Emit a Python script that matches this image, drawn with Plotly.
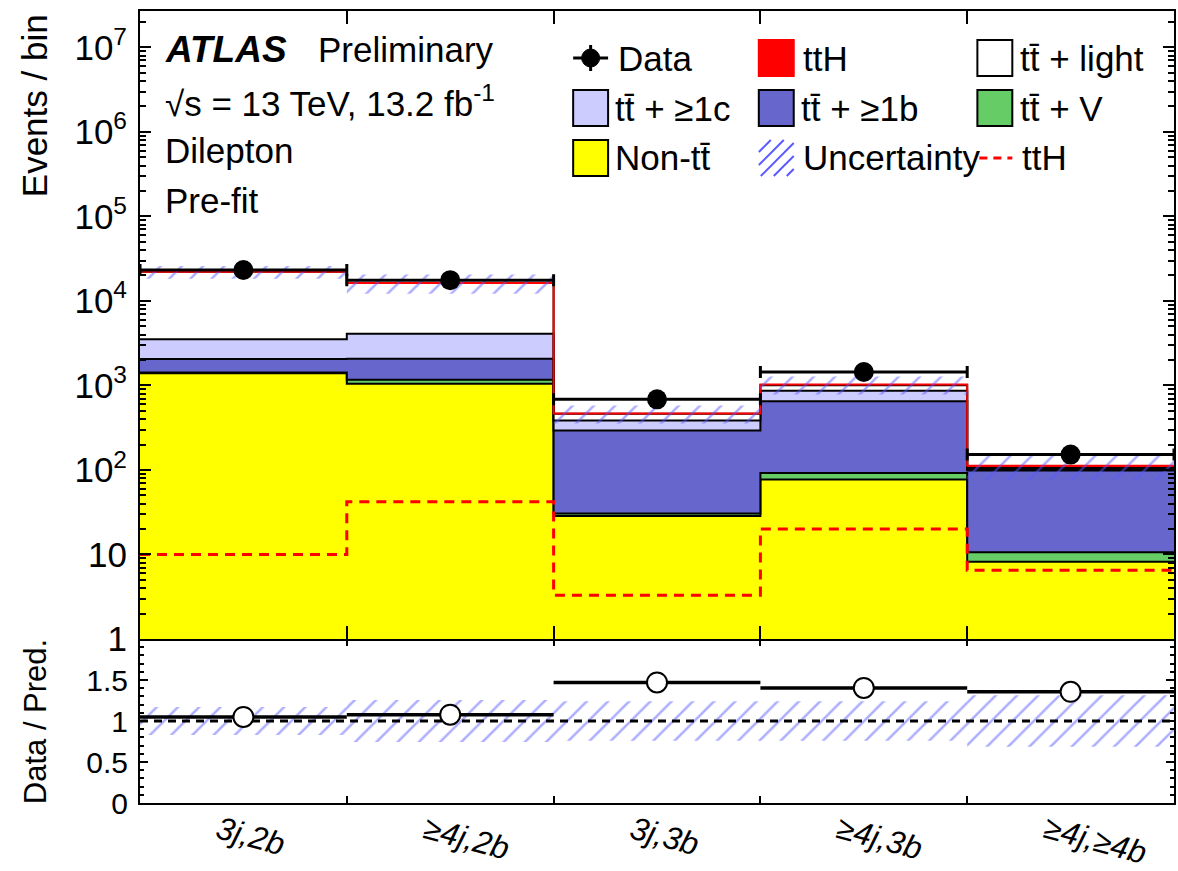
import numpy as np
import plotly.graph_objects as go

# ---- bins and yields ----
categories = ["3j,2b", "≥4j,2b", "3j,3b", "≥4j,3b", "≥4j,≥4b"]
data = [23200, 17600, 685, 1440, 152]
non_tt = [1390, 1045, 28.6, 77, 8.2]
tt_v = [28, 125, 2.0, 15, 2.4]
tt_1b = [640, 905, 263, 560, 88]
tt_1c = [1450, 2025, 91, 212, 3]
tt_light = [18590, 12200, 78, 142, 4]
tth = [10, 42, 3.3, 20, 6.5]
rel_unc = [0.17, 0.255, 0.24, 0.24, 0.315]

FONT = "Liberation Sans, Arial, Helvetica, sans-serif"
TTBAR = "tt\u0304"
HATCH = "#5a5aff"
TXT = 35

edges = np.arange(len(categories) + 1, dtype=float)
centers = edges[:-1] + 0.5


def step(v):
    v = list(v)
    return v + [v[-1]]


# pixel helpers for paper-positioned decorations (plot area 140..1176 x 11..803)
def px(x):
    return (x - 140) / 1036.0


def py(y):
    return (803 - y) / 792.0


stack = [
    ("Non-" + TTBAR, non_tt, "#ffff00", "black"),
    (TTBAR + " + V", tt_v, "#66cc66", "black"),
    (TTBAR + " + ≥1b", tt_1b, "#6666cc", "black"),
    (TTBAR + " + ≥1c", tt_1c, "#ccccff", "black"),
    (TTBAR + " + light", tt_light, "#ffffff", "black"),
    ("ttH", tth, "#ff0000", "#ff0000"),
]

hatch = dict(shape="/", fgcolor=HATCH, bgcolor="rgba(0,0,0,0)",
             size=15, solidity=0.17, fillmode="overlay")

fig = go.Figure()

# baseline below the visible range so the first fill reaches the axis
fig.add_trace(go.Scatter(x=edges, y=[1e-3] * len(edges), mode="lines",
                         line=dict(width=0, shape="hv"), xaxis="x2", yaxis="y",
                         hoverinfo="skip", showlegend=False))

cum = np.zeros(len(categories))
for name, vals, fc, lc in stack:
    cum = cum + np.array(vals, dtype=float)
    fig.add_trace(go.Scatter(x=edges, y=step(cum), mode="lines", name=name,
                             line=dict(color=lc, width=2, shape="hv"),
                             fill="tonexty", fillcolor=fc,
                             xaxis="x2", yaxis="y", showlegend=False))
total = cum.copy()
unc = np.array(rel_unc)

# uncertainty band on the prediction
fig.add_trace(go.Scatter(x=edges, y=step(total * (1 - unc)), mode="lines",
                         line=dict(width=0, shape="hv"), xaxis="x2", yaxis="y",
                         hoverinfo="skip", showlegend=False))
fig.add_trace(go.Scatter(x=edges, y=step(total * (1 + unc)), mode="lines",
                         line=dict(width=0, shape="hv"), fill="tonexty",
                         fillcolor="rgba(0,0,0,0)", fillpattern=hatch,
                         xaxis="x2", yaxis="y", showlegend=False))

# ttH overlay
fig.add_trace(go.Scatter(x=edges, y=step(tth), mode="lines",
                         line=dict(color="#ff0000", width=3, dash="10px,7px", shape="hv"),
                         xaxis="x2", yaxis="y", showlegend=False))

# data
data_arr = np.array(data, dtype=float)
fig.add_trace(go.Scatter(x=centers, y=data_arr, mode="markers",
                         marker=dict(color="black", size=20),
                         error_x=dict(type="constant", value=0.5, width=6, thickness=3, color="black"),
                         error_y=dict(type="data", array=np.sqrt(data_arr), width=0,
                                      thickness=3, color="black"),
                         xaxis="x2", yaxis="y", showlegend=False))

# ---- ratio panel ----
fig.add_trace(go.Scatter(x=edges, y=step(1 - unc), mode="lines",
                         line=dict(width=0, shape="hv"), xaxis="x", yaxis="y2",
                         hoverinfo="skip", showlegend=False))
fig.add_trace(go.Scatter(x=edges, y=step(1 + unc), mode="lines",
                         line=dict(width=0, shape="hv"), fill="tonexty",
                         fillcolor="rgba(0,0,0,0)", fillpattern=hatch,
                         xaxis="x", yaxis="y2", showlegend=False))
fig.add_trace(go.Scatter(x=[edges[0], edges[-1]], y=[1, 1], mode="lines",
                         line=dict(color="black", width=3, dash="8px,6px"),
                         xaxis="x", yaxis="y2", showlegend=False))
ratio = data_arr / total
fig.add_trace(go.Scatter(x=centers, y=ratio, mode="markers",
                         marker=dict(color="white", size=20, line=dict(color="black", width=2)),
                         error_x=dict(type="constant", value=0.5, width=0, thickness=3.5, color="black"),
                         error_y=dict(type="data", array=np.sqrt(data_arr) / total, width=0,
                                      thickness=3, color="black"),
                         xaxis="x", yaxis="y2", showlegend=False))

# ---- axes ----
split = 164 / 792.0
log_major = [10 ** e for e in range(8)]
log_text = ["1", "10"] + ["10<sup>%d</sup>" % e for e in range(2, 8)]
log_minor = [m * 10 ** e for e in range(8) for m in range(2, 10) if m * 10 ** e < 10 ** 7.43]

common_axis = dict(showline=True, linecolor="black", linewidth=2, mirror="ticks",
                   showgrid=False, zeroline=False, tickcolor="black")

fig.update_layout(
    width=1178, height=871,
    margin=dict(l=140, r=2, t=11, b=68),
    paper_bgcolor="white", plot_bgcolor="white",
    font=dict(family=FONT, color="black"),
    showlegend=False,
    xaxis=dict(domain=[0, 1], range=[0, 5], anchor="y2",
               tickvals=list(edges[1:-1]), ticks="inside", ticklen=7, tickwidth=2,
               showticklabels=False, **common_axis),
    xaxis2=dict(domain=[0, 1], range=[0, 5], anchor="y", matches="x",
                tickvals=list(edges[1:-1]), ticks="inside", ticklen=13, tickwidth=2,
                showticklabels=False, **common_axis),
    yaxis=dict(domain=[split, 1], type="log", range=[0, 7.43], anchor="x2",
               tickvals=log_major, ticktext=log_text, ticks="inside", ticklen=11, tickwidth=2,
               tickfont=dict(size=35), ticklabelstandoff=4,
               minor=dict(tickvals=log_minor, ticks="inside", ticklen=6, tickwidth=1.5,
                          tickcolor="black"),
               **common_axis),
    yaxis2=dict(domain=[0, split], range=[0, 2], anchor="x",
                tickvals=[0, 0.5, 1, 1.5], ticktext=["0", "0.5", "1", "1.5"],
                ticks="inside", ticklen=8, tickwidth=2, tickfont=dict(size=30),
                ticklabelstandoff=4,
                minor=dict(dtick=0.1, ticks="inside", ticklen=4, tickwidth=1.5,
                           tickcolor="black"),
                **common_axis),
)

annotations = []
shapes = []

# category labels under the ratio panel
for c, lab in zip(centers, categories):
    annotations.append(dict(x=c, xref="x", y=py(807), yref="paper", xshift=-33,
                            text="<i>%s</i>" % lab, showarrow=False, textangle=15,
                            xanchor="left", yanchor="top", font=dict(size=32)))

# axis titles
annotations.append(dict(x=px(35), y=py(106), xref="paper", yref="paper", text="Events / bin",
                        textangle=-90, showarrow=False, xanchor="center", yanchor="middle",
                        font=dict(size=35)))
annotations.append(dict(x=px(35), y=py(722), xref="paper", yref="paper", text="Data / Pred.",
                        textangle=-90, showarrow=False, xanchor="center", yanchor="middle",
                        font=dict(size=31)))


# labels in the top-left corner
def label(x, y, text, size=TXT):
    annotations.append(dict(x=px(x), y=py(y), xref="paper", yref="paper", text=text,
                            showarrow=False, xanchor="left", yanchor="middle",
                            font=dict(size=size)))


label(163, 50, "<b><i>ATLAS</i></b>", size=37)
label(316, 50, "Preliminary")
label(163, 101, "√s = 13 TeV, 13.2 fb<sup>-1</sup>")
label(163, 150, "Dilepton")
label(163, 200, "Pre-fit")

# legend
rows = [58, 108, 158]
cols = [574, 760, 979]
bw, bh = 35, 36


def box(col, row, fc, lc):
    x0, y0 = cols[col], rows[row] - bh / 2
    shapes.append(dict(type="rect", xref="paper", yref="paper",
                       x0=px(x0), x1=px(x0 + bw), y0=py(y0 + bh), y1=py(y0),
                       fillcolor=fc, line=dict(color=lc, width=2)))


# data entry: marker with error bar
cx, cy = cols[0] + bw / 2, rows[0]
shapes.append(dict(type="line", xref="paper", yref="paper", x0=px(cols[0]), x1=px(cols[0] + bw),
                   y0=py(cy), y1=py(cy), line=dict(color="black", width=3)))
shapes.append(dict(type="line", xref="paper", yref="paper", x0=px(cx), x1=px(cx),
                   y0=py(cy - 13), y1=py(cy + 13), line=dict(color="black", width=3)))
shapes.append(dict(type="circle", xref="paper", yref="paper", x0=px(cx - 9), x1=px(cx + 9),
                   y0=py(cy + 9), y1=py(cy - 9), fillcolor="black", line=dict(color="black", width=1)))
label(cols[0] + 43, rows[0], "Data")

box(1, 0, "#ff0000", "#ff0000")
label(cols[1] + 42, rows[0], "ttH")
box(2, 0, "#ffffff", "black")
label(cols[2] + 41, rows[0], TTBAR + " + light")

box(0, 1, "#ccccff", "black")
label(cols[0] + 40, rows[1], TTBAR + " + ≥1c")
box(1, 1, "#6666cc", "black")
label(cols[1] + 40, rows[1], TTBAR + " + ≥1b")
box(2, 1, "#66cc66", "black")
label(cols[2] + 41, rows[1], TTBAR + " + V")

box(0, 2, "#ffff00", "black")
label(cols[0] + 40, rows[2], "Non-" + TTBAR)

# hatched swatch for the uncertainty entry
x0, x1 = cols[1], cols[1] + bw
y0, y1 = rows[2] - bh / 2, rows[2] + bh / 2
for c in np.arange(x0 + y0 + 12, x1 + y1, 13):
    xa = max(x0, c - y1)
    xb = min(x1, c - y0)
    if xb - xa < 3:
        continue
    shapes.append(dict(type="line", xref="paper", yref="paper",
                       x0=px(xa), y0=py(c - xa), x1=px(xb), y1=py(c - xb),
                       line=dict(color=HATCH, width=2)))
label(cols[1] + 42, rows[2], "Uncertainty")

shapes.append(dict(type="line", xref="paper", yref="paper", x0=px(981), x1=px(1014),
                   y0=py(rows[2]), y1=py(rows[2]),
                   line=dict(color="#ff0000", width=3, dash="8px,6px")))
label(1022, rows[2], "ttH")

fig.update_layout(annotations=annotations, shapes=shapes)
fig.write_html("out.html")
